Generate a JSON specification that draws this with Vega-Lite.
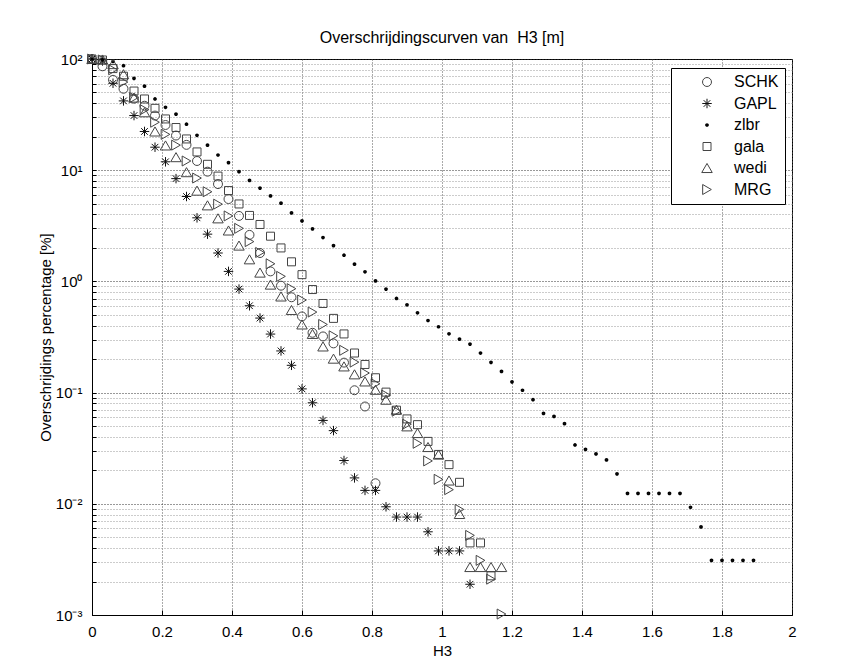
{
  "$schema": "https://vega.github.io/schema/vega-lite/v6.json",
  "width": 700,
  "height": 556,
  "autosize": "none",
  "padding": {"left": 92, "top": 59, "right": 69, "bottom": 44},
  "background": "white",
  "title": {"text": "Overschrijdingscurven van\u00a0 H3 [m]", "fontSize": 16, "font": "Liberation Sans", "fontWeight": "normal", "anchor": "middle", "offset": 6, "color": "black"},
  "config": {
    "view": {"stroke": "black", "strokeWidth": 1},
    "font": "Liberation Sans"
  },
  "data": {"values": [
    {"s":"SCHK","h":0,"p":100},{"s":"SCHK","h":0.03,"p":86},{"s":"SCHK","h":0.06,"p":65},{"s":"SCHK","h":0.09,"p":54},{"s":"SCHK","h":0.12,"p":44},{"s":"SCHK","h":0.15,"p":38},{"s":"SCHK","h":0.18,"p":31},{"s":"SCHK","h":0.21,"p":25.5},{"s":"SCHK","h":0.24,"p":20.5},{"s":"SCHK","h":0.27,"p":16.9},{"s":"SCHK","h":0.3,"p":12.1},{"s":"SCHK","h":0.33,"p":9.7},{"s":"SCHK","h":0.36,"p":7.5},{"s":"SCHK","h":0.39,"p":5.5},{"s":"SCHK","h":0.42,"p":3.88},{"s":"SCHK","h":0.45,"p":2.62},{"s":"SCHK","h":0.48,"p":1.8},{"s":"SCHK","h":0.51,"p":1.23},{"s":"SCHK","h":0.54,"p":0.915},{"s":"SCHK","h":0.57,"p":0.72},{"s":"SCHK","h":0.6,"p":0.484},{"s":"SCHK","h":0.63,"p":0.345},{"s":"SCHK","h":0.66,"p":0.32},{"s":"SCHK","h":0.69,"p":0.277},{"s":"SCHK","h":0.72,"p":0.186},{"s":"SCHK","h":0.75,"p":0.105},{"s":"SCHK","h":0.78,"p":0.075},{"s":"SCHK","h":0.81,"p":0.0153},
    {"s":"GAPL","h":0,"p":100},{"s":"GAPL","h":0.03,"p":96},{"s":"GAPL","h":0.06,"p":60.5},{"s":"GAPL","h":0.09,"p":42},{"s":"GAPL","h":0.12,"p":31},{"s":"GAPL","h":0.15,"p":22.3},{"s":"GAPL","h":0.18,"p":16.1},{"s":"GAPL","h":0.21,"p":11.9},{"s":"GAPL","h":0.24,"p":8.4},{"s":"GAPL","h":0.27,"p":5.8},{"s":"GAPL","h":0.3,"p":3.73},{"s":"GAPL","h":0.33,"p":2.66},{"s":"GAPL","h":0.36,"p":1.8},{"s":"GAPL","h":0.39,"p":1.23},{"s":"GAPL","h":0.42,"p":0.853},{"s":"GAPL","h":0.45,"p":0.604},{"s":"GAPL","h":0.48,"p":0.468},{"s":"GAPL","h":0.51,"p":0.336},{"s":"GAPL","h":0.54,"p":0.237},{"s":"GAPL","h":0.57,"p":0.176},{"s":"GAPL","h":0.6,"p":0.108},{"s":"GAPL","h":0.63,"p":0.081},{"s":"GAPL","h":0.66,"p":0.0562},{"s":"GAPL","h":0.69,"p":0.0455},{"s":"GAPL","h":0.72,"p":0.0245},{"s":"GAPL","h":0.75,"p":0.0171},{"s":"GAPL","h":0.78,"p":0.0132},{"s":"GAPL","h":0.81,"p":0.0132},{"s":"GAPL","h":0.84,"p":0.0094},{"s":"GAPL","h":0.87,"p":0.0076},{"s":"GAPL","h":0.9,"p":0.0076},{"s":"GAPL","h":0.93,"p":0.0076},{"s":"GAPL","h":0.96,"p":0.0056},{"s":"GAPL","h":0.99,"p":0.00377},{"s":"GAPL","h":1.02,"p":0.00377},{"s":"GAPL","h":1.05,"p":0.00377},{"s":"GAPL","h":1.08,"p":0.00189},
    {"s":"zlbr","h":0,"p":100},{"s":"zlbr","h":0.03,"p":99},{"s":"zlbr","h":0.06,"p":95},{"s":"zlbr","h":0.09,"p":87},{"s":"zlbr","h":0.12,"p":67},{"s":"zlbr","h":0.15,"p":57},{"s":"zlbr","h":0.18,"p":43.7},{"s":"zlbr","h":0.21,"p":36.8},{"s":"zlbr","h":0.24,"p":31.9},{"s":"zlbr","h":0.27,"p":25.9},{"s":"zlbr","h":0.3,"p":20.6},{"s":"zlbr","h":0.33,"p":16.8},{"s":"zlbr","h":0.36,"p":13.7},{"s":"zlbr","h":0.39,"p":11.7},{"s":"zlbr","h":0.42,"p":9.7},{"s":"zlbr","h":0.45,"p":8.1},{"s":"zlbr","h":0.48,"p":6.9},{"s":"zlbr","h":0.51,"p":5.87},{"s":"zlbr","h":0.54,"p":5.05},{"s":"zlbr","h":0.57,"p":4.13},{"s":"zlbr","h":0.6,"p":3.5},{"s":"zlbr","h":0.63,"p":2.97},{"s":"zlbr","h":0.66,"p":2.48},{"s":"zlbr","h":0.69,"p":2.1},{"s":"zlbr","h":0.72,"p":1.72},{"s":"zlbr","h":0.75,"p":1.43},{"s":"zlbr","h":0.78,"p":1.22},{"s":"zlbr","h":0.81,"p":1.01},{"s":"zlbr","h":0.84,"p":0.853},{"s":"zlbr","h":0.87,"p":0.702},{"s":"zlbr","h":0.9,"p":0.616},{"s":"zlbr","h":0.93,"p":0.522},{"s":"zlbr","h":0.96,"p":0.445},{"s":"zlbr","h":0.99,"p":0.391},{"s":"zlbr","h":1.02,"p":0.338},{"s":"zlbr","h":1.05,"p":0.303},{"s":"zlbr","h":1.08,"p":0.273},{"s":"zlbr","h":1.11,"p":0.227},{"s":"zlbr","h":1.14,"p":0.187},{"s":"zlbr","h":1.17,"p":0.155},{"s":"zlbr","h":1.2,"p":0.125},{"s":"zlbr","h":1.23,"p":0.105},{"s":"zlbr","h":1.26,"p":0.0863},{"s":"zlbr","h":1.29,"p":0.065},{"s":"zlbr","h":1.32,"p":0.0611},{"s":"zlbr","h":1.35,"p":0.0526},{"s":"zlbr","h":1.38,"p":0.0338},{"s":"zlbr","h":1.41,"p":0.0309},{"s":"zlbr","h":1.44,"p":0.0281},{"s":"zlbr","h":1.47,"p":0.0248},{"s":"zlbr","h":1.5,"p":0.0186},{"s":"zlbr","h":1.53,"p":0.0124},{"s":"zlbr","h":1.56,"p":0.0124},{"s":"zlbr","h":1.59,"p":0.0124},{"s":"zlbr","h":1.62,"p":0.0124},{"s":"zlbr","h":1.65,"p":0.0124},{"s":"zlbr","h":1.68,"p":0.0124},{"s":"zlbr","h":1.71,"p":0.0093},{"s":"zlbr","h":1.74,"p":0.0062},{"s":"zlbr","h":1.77,"p":0.0031},{"s":"zlbr","h":1.8,"p":0.0031},{"s":"zlbr","h":1.83,"p":0.0031},{"s":"zlbr","h":1.86,"p":0.0031},{"s":"zlbr","h":1.89,"p":0.0031},
    {"s":"gala","h":0,"p":100},{"s":"gala","h":0.03,"p":98},{"s":"gala","h":0.06,"p":82},{"s":"gala","h":0.09,"p":70},{"s":"gala","h":0.12,"p":51.5},{"s":"gala","h":0.15,"p":43.7},{"s":"gala","h":0.18,"p":36},{"s":"gala","h":0.21,"p":28.9},{"s":"gala","h":0.24,"p":24.2},{"s":"gala","h":0.27,"p":19.1},{"s":"gala","h":0.3,"p":14.6},{"s":"gala","h":0.33,"p":11.3},{"s":"gala","h":0.36,"p":8.85},{"s":"gala","h":0.39,"p":6.56},{"s":"gala","h":0.42,"p":4.97},{"s":"gala","h":0.45,"p":3.92},{"s":"gala","h":0.48,"p":3.25},{"s":"gala","h":0.51,"p":2.55},{"s":"gala","h":0.54,"p":2.0},{"s":"gala","h":0.57,"p":1.5},{"s":"gala","h":0.6,"p":1.15},{"s":"gala","h":0.63,"p":0.845},{"s":"gala","h":0.66,"p":0.633},{"s":"gala","h":0.69,"p":0.465},{"s":"gala","h":0.72,"p":0.337},{"s":"gala","h":0.75,"p":0.227},{"s":"gala","h":0.78,"p":0.179},{"s":"gala","h":0.81,"p":0.136},{"s":"gala","h":0.84,"p":0.101},{"s":"gala","h":0.87,"p":0.0695},{"s":"gala","h":0.9,"p":0.058},{"s":"gala","h":0.93,"p":0.0515},{"s":"gala","h":0.96,"p":0.0364},{"s":"gala","h":0.99,"p":0.0278},{"s":"gala","h":1.02,"p":0.0225},{"s":"gala","h":1.05,"p":0.0156},{"s":"gala","h":1.08,"p":0.00445},{"s":"gala","h":1.11,"p":0.00445},{"s":"gala","h":1.14,"p":0.00225},
    {"s":"wedi","h":0,"p":100},{"s":"wedi","h":0.03,"p":99},{"s":"wedi","h":0.06,"p":90},{"s":"wedi","h":0.09,"p":73},{"s":"wedi","h":0.12,"p":45},{"s":"wedi","h":0.15,"p":33.2},{"s":"wedi","h":0.18,"p":22.3},{"s":"wedi","h":0.21,"p":16.7},{"s":"wedi","h":0.24,"p":13.1},{"s":"wedi","h":0.27,"p":9.6},{"s":"wedi","h":0.3,"p":6.55},{"s":"wedi","h":0.33,"p":4.83},{"s":"wedi","h":0.36,"p":3.69},{"s":"wedi","h":0.39,"p":2.87},{"s":"wedi","h":0.42,"p":2.1},{"s":"wedi","h":0.45,"p":1.58},{"s":"wedi","h":0.48,"p":1.2},{"s":"wedi","h":0.51,"p":0.936},{"s":"wedi","h":0.54,"p":0.732},{"s":"wedi","h":0.57,"p":0.553},{"s":"wedi","h":0.6,"p":0.41},{"s":"wedi","h":0.63,"p":0.337},{"s":"wedi","h":0.66,"p":0.26},{"s":"wedi","h":0.69,"p":0.202},{"s":"wedi","h":0.72,"p":0.172},{"s":"wedi","h":0.75,"p":0.146},{"s":"wedi","h":0.78,"p":0.126},{"s":"wedi","h":0.81,"p":0.106},{"s":"wedi","h":0.84,"p":0.0863},{"s":"wedi","h":0.87,"p":0.0702},{"s":"wedi","h":0.9,"p":0.0497},{"s":"wedi","h":0.93,"p":0.0433},{"s":"wedi","h":0.96,"p":0.0324},{"s":"wedi","h":0.99,"p":0.0277},{"s":"wedi","h":1.02,"p":0.0162},{"s":"wedi","h":1.05,"p":0.0081},{"s":"wedi","h":1.08,"p":0.0027},{"s":"wedi","h":1.11,"p":0.0027},{"s":"wedi","h":1.14,"p":0.0027},{"s":"wedi","h":1.17,"p":0.0027},
    {"s":"MRG","h":0,"p":100},{"s":"MRG","h":0.03,"p":98},{"s":"MRG","h":0.06,"p":80},{"s":"MRG","h":0.09,"p":62},{"s":"MRG","h":0.12,"p":45},{"s":"MRG","h":0.15,"p":35},{"s":"MRG","h":0.18,"p":27},{"s":"MRG","h":0.21,"p":21},{"s":"MRG","h":0.24,"p":16.8},{"s":"MRG","h":0.27,"p":12.1},{"s":"MRG","h":0.3,"p":8.5},{"s":"MRG","h":0.33,"p":6.4},{"s":"MRG","h":0.36,"p":4.95},{"s":"MRG","h":0.39,"p":3.88},{"s":"MRG","h":0.42,"p":3.0},{"s":"MRG","h":0.45,"p":2.28},{"s":"MRG","h":0.48,"p":1.82},{"s":"MRG","h":0.51,"p":1.44},{"s":"MRG","h":0.54,"p":1.11},{"s":"MRG","h":0.57,"p":0.86},{"s":"MRG","h":0.6,"p":0.68},{"s":"MRG","h":0.63,"p":0.53},{"s":"MRG","h":0.66,"p":0.41},{"s":"MRG","h":0.69,"p":0.324},{"s":"MRG","h":0.72,"p":0.24},{"s":"MRG","h":0.75,"p":0.188},{"s":"MRG","h":0.78,"p":0.15},{"s":"MRG","h":0.81,"p":0.12},{"s":"MRG","h":0.84,"p":0.095},{"s":"MRG","h":0.87,"p":0.068},{"s":"MRG","h":0.9,"p":0.052},{"s":"MRG","h":0.93,"p":0.035},{"s":"MRG","h":0.96,"p":0.0243},{"s":"MRG","h":0.99,"p":0.0166},{"s":"MRG","h":1.02,"p":0.0134},{"s":"MRG","h":1.05,"p":0.0089},{"s":"MRG","h":1.08,"p":0.0052},{"s":"MRG","h":1.11,"p":0.0031},{"s":"MRG","h":1.14,"p":0.0021},{"s":"MRG","h":1.17,"p":0.00102}
  ]},
  "mark": {"type": "point", "filled": false, "clip": false, "opacity": 1},
  "encoding": {
    "x": {"field": "h", "type": "quantitative",
      "scale": {"domain": [0, 2], "nice": false, "zero": false},
      "axis": {"title": "H3", "values": [0,0.2,0.4,0.6,0.8,1,1.2,1.4,1.6,1.8,2], "format": "~g",
        "grid": true, "gridDash": [1,2], "gridColor": "#555", "gridWidth": 1, "labelFlush": false,
        "domainColor": "black", "tickColor": "black", "tickSize": -5,
        "labelFontSize": 15, "labelColor": "black", "labelPadding": 14, "labelFont": "Liberation Sans",
        "titleFontSize": 15, "titleFontWeight": "normal", "titleColor": "black", "titlePadding": 4, "titleFont": "Liberation Sans"}},
    "y": {"field": "p", "type": "quantitative",
      "scale": {"type": "log", "domain": [0.001, 100], "nice": false},
      "axis": {"title": "Overschrijdings percentage [%]",
        "values": [0.001,0.002,0.003,0.004,0.005,0.006,0.007,0.008,0.009,0.01,0.02,0.03,0.04,0.05,0.06,0.07,0.08,0.09,0.1,0.2,0.3,0.4,0.5,0.6,0.7,0.8,0.9,1,2,3,4,5,6,7,8,9,10,20,30,40,50,60,70,80,90,100],
        "labelExpr": "datum.value==100?'10²':datum.value==10?'10¹':datum.value==1?'10⁰':datum.value==0.1?'10⁻¹':datum.value==0.01?'10⁻²':datum.value==0.001?'10⁻³':''",
        "grid": true, "gridDash": [1,2], "labelFlush": false,
        "gridColor": {"condition": {"test": "datum.value==100||datum.value==10||datum.value==1||datum.value==0.1||datum.value==0.01||datum.value==0.001", "value": "#333"}, "value": "#999"},
        "domainColor": "black", "tickColor": "black", "tickSize": -4,
        "labelFontSize": 15, "labelColor": "black", "labelPadding": 14, "labelFont": "Liberation Sans", "labelOverlap": false,
        "titleFontSize": 15, "titleFontWeight": "normal", "titleColor": "black", "titlePadding": 2, "titleFont": "Liberation Sans"}},
    "shape": {"field": "s", "type": "nominal",
      "scale": {"domain": ["SCHK","GAPL","zlbr","gala","wedi","MRG"], "range": ["circle","M-1,0L1,0M0,-1L0,1M-0.7,-0.7L0.7,0.7M-0.7,0.7L0.7,-0.7","circle","square","triangle-up","triangle-right"]},
      "legend": {"title": null, "orient": "none", "legendX": 579, "legendY": 9, "padding": 6, "rowPadding": 5.5,
        "strokeColor": "black", "fillColor": "white", "symbolOffset": 22, "labelOffset": 19,
        "labelFontSize": 16, "labelFont": "Liberation Sans", "labelColor": "black", "symbolFillColor": "transparent"}},
    "size": {"field": "s", "type": "ordinal",
      "scale": {"type": "ordinal", "domain": ["SCHK","GAPL","zlbr","gala","wedi","MRG"], "range": [80, 90, 3, 64, 110, 100]}, "legend": {"title": null}},
    "stroke": {"field": "s", "type": "nominal",
      "scale": {"domain": ["SCHK","GAPL","zlbr","gala","wedi","MRG"], "range": ["#444","#111","#000","#444","#444","#444"]}, "legend": {"title": null}},
    "strokeWidth": {"field": "s", "type": "ordinal",
      "scale": {"type": "ordinal", "domain": ["SCHK","GAPL","zlbr","gala","wedi","MRG"], "range": [1, 1, 2, 1, 1, 1]}, "legend": {"title": null}}
  }
}
